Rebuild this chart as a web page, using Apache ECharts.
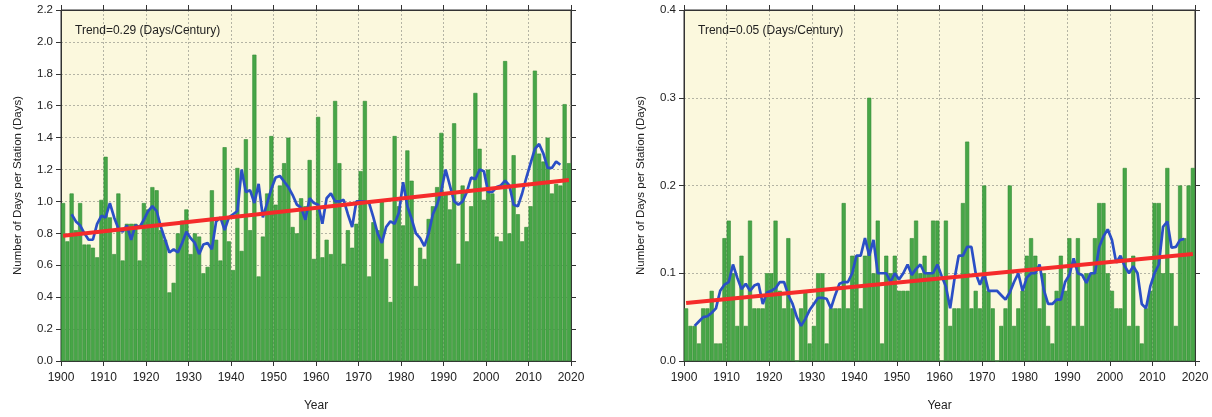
<!DOCTYPE html>
<html><head><meta charset="utf-8">
<script src="https://cdn.jsdelivr.net/npm/echarts@6/dist/echarts.min.js"></script>
<style>html,body{margin:0;padding:0;background:#fff}#c{width:1212px;height:417px}</style>
</head><body><div id="c"></div>
<script>
// ---------- data ----------
const START_YEAR = 1900;
const END_YEAR = 2019;
const SMOOTH_START = 1902;
const X_TICK_MIN = 1900, X_TICK_MAX = 2020, X_TICK_STEP = 10;

const leftBars = [
  0.99, 0.75, 1.05, 0.82, 0.99, 0.73, 0.73, 0.71, 0.65, 1.01,
  1.28, 0.90, 0.67, 1.05, 0.63, 0.86, 0.86, 0.86, 0.63, 0.99,
  0.95, 1.09, 1.07, 0.82, 0.76, 0.43, 0.49, 0.80, 0.88, 0.95,
  0.67, 0.80, 0.78, 0.55, 0.59, 1.07, 0.76, 0.63, 1.34, 0.75,
  0.57, 1.21, 0.69, 1.39, 0.82, 1.92, 0.53, 0.78, 1.05, 1.41,
  0.98, 1.10, 1.24, 1.40, 0.84, 0.80, 1.02, 0.97, 1.26, 0.64,
  1.53, 0.65, 0.76, 0.67, 1.63, 1.24, 0.61, 0.82, 0.71, 0.86,
  1.19, 1.63, 0.53, 0.87, 0.82, 1.00, 0.64, 0.37, 1.41, 0.97,
  0.85, 1.32, 1.13, 0.47, 0.71, 0.64, 0.89, 0.97, 1.09, 1.43,
  1.05, 0.95, 1.49, 0.61, 1.10, 0.75, 0.97, 1.68, 1.33, 1.01,
  1.20, 1.05, 0.78, 0.75, 1.88, 0.80, 1.29, 0.92, 0.75, 0.84,
  0.97, 1.82, 1.30, 1.25, 1.40, 1.05, 1.11, 1.10, 1.61, 1.24
];
const leftSmooth = [ // 1902..2017
              0.92, 0.875, 0.85, 0.80, 0.76, 0.76, 0.86, 0.91,
  0.90, 0.99, 0.90, 0.83, 0.81, 0.85, 0.76, 0.85, 0.84, 0.885,
  0.94, 0.97, 0.94, 0.84, 0.76, 0.68, 0.70, 0.68, 0.74, 0.81,
  0.77, 0.74, 0.67, 0.73, 0.74, 0.70, 0.875, 0.90, 0.82, 0.90,
  0.92, 0.94, 1.20, 1.06, 1.07, 0.99, 1.11, 0.90, 0.99, 1.08,
  1.15, 1.16, 1.125, 1.09, 1.04, 0.98, 0.96, 0.885, 1.02, 0.99,
  0.98, 0.86, 1.02, 1.05, 1.00, 1.00, 1.01, 0.92, 0.84, 1.00,
  1.00, 1.00, 0.99, 0.90, 0.80, 0.74, 0.84, 0.875, 0.86, 0.93,
  1.12, 0.97, 0.89, 0.80, 0.77, 0.72, 0.80, 0.92, 0.98, 1.07,
  1.20, 1.10, 1.00, 0.98, 1.00, 1.06, 1.15, 1.14, 1.20, 1.19,
  1.06, 1.06, 1.09, 1.10, 1.13, 1.10, 0.98, 0.97, 1.05, 1.15,
  1.24, 1.33, 1.36, 1.30, 1.21, 1.21, 1.25, 1.23
];
const leftTrend = [0.785, 1.135]; // value at 1900 and at 2019

const rightBars = [
  0.06, 0.04, 0.04, 0.02, 0.06, 0.06, 0.08, 0.02, 0.02, 0.14,
  0.16, 0.10, 0.04, 0.12, 0.04, 0.16, 0.06, 0.06, 0.06, 0.10,
  0.10, 0.16, 0.08, 0.06, 0.14, 0.06, 0.00, 0.06, 0.08, 0.02,
  0.04, 0.10, 0.10, 0.02, 0.06, 0.06, 0.06, 0.18, 0.06, 0.12,
  0.12, 0.06, 0.12, 0.30, 0.10, 0.16, 0.02, 0.12, 0.10, 0.12,
  0.08, 0.08, 0.08, 0.14, 0.16, 0.10, 0.12, 0.10, 0.16, 0.16,
  0.00, 0.16, 0.04, 0.06, 0.06, 0.18, 0.25, 0.06, 0.08, 0.06,
  0.20, 0.08, 0.06, 0.00, 0.04, 0.06, 0.20, 0.04, 0.06, 0.08,
  0.12, 0.14, 0.12, 0.06, 0.10, 0.04, 0.02, 0.08, 0.12, 0.08,
  0.14, 0.04, 0.14, 0.04, 0.10, 0.10, 0.14, 0.18, 0.18, 0.10,
  0.08, 0.06, 0.06, 0.22, 0.04, 0.12, 0.04, 0.02, 0.06, 0.08,
  0.18, 0.18, 0.10, 0.22, 0.10, 0.04, 0.20, 0.14, 0.20, 0.22
];
const rightSmooth = [ // 1902..2017
              0.040, 0.045, 0.050, 0.051, 0.055, 0.060, 0.080, 0.087,
  0.090, 0.110, 0.095, 0.082, 0.088, 0.080, 0.086, 0.088, 0.065, 0.078,
  0.080, 0.083, 0.090, 0.090, 0.075, 0.065, 0.050, 0.040, 0.048, 0.058,
  0.065, 0.072, 0.072, 0.071, 0.060, 0.075, 0.088, 0.090, 0.090, 0.100,
  0.120, 0.120, 0.140, 0.120, 0.138, 0.100, 0.100, 0.100, 0.090, 0.100,
  0.093, 0.100, 0.110, 0.098, 0.105, 0.110, 0.100, 0.100, 0.100, 0.110,
  0.097, 0.085, 0.060, 0.093, 0.120, 0.120, 0.130, 0.130, 0.100, 0.087,
  0.100, 0.080, 0.080, 0.080, 0.075, 0.070, 0.078, 0.090, 0.100, 0.080,
  0.095, 0.100, 0.100, 0.110, 0.081, 0.065, 0.065, 0.070, 0.070, 0.090,
  0.098, 0.117, 0.100, 0.098, 0.089, 0.100, 0.100, 0.130, 0.142, 0.150,
  0.138, 0.112, 0.120, 0.108, 0.100, 0.108, 0.100, 0.065, 0.060, 0.085,
  0.100, 0.110, 0.153, 0.159, 0.129, 0.130, 0.138, 0.139
];
const rightTrend = [0.066, 0.122];

const leftYTicks = {max: 2.2, step: 0.2};
const rightYTicks = {max: 0.4, step: 0.1};
const leftNote = 'Trend=0.29 (Days/Century)';
const rightNote = 'Trend=0.05 (Days/Century)';
const yName = 'Number of Days per Station (Days)';
const xName = 'Year';

// ---------- build ----------
const years = [];
for (let y = START_YEAR; y <= END_YEAR; y++) years.push(String(y));
function smoothSeries(arr) {
  return years.map((y) => {
    const k = (+y) - SMOOTH_START;
    return (k >= 0 && k < arr.length) ? arr[k] : null;
  });
}
function trendSeries(ends) {
  return years.map((y, i) => i === 0 ? ends[0] : (i === years.length - 1 ? ends[1] : null));
}

const FONT = 'Liberation Sans, Arial, sans-serif';
const TXT = '#222';
const dotted = {show: true, lineStyle: {color: '#b4b4a4', type: [2, 2], width: 1}};
const grids = [
  {left: 61, top: 10, width: 510, height: 352},
  {left: 684, top: 10, width: 511, height: 352}
];

const xAxis = [], yAxis = [], series = [];
function panel(g, bars, smooth, trend, yt) {
  const xb = xAxis.length;
  xAxis.push({type: 'category', gridIndex: g, data: years, show: false, boundaryGap: true});
  xAxis.push({type: 'value', gridIndex: g, min: X_TICK_MIN, max: X_TICK_MAX, interval: X_TICK_STEP,
    position: 'bottom', name: xName, nameLocation: 'middle', nameGap: 39,
    nameTextStyle: {color: TXT, fontSize: 12, fontFamily: FONT},
    axisLine: {show: true, lineStyle: {color: '#333'}},
    axisTick: {show: true, inside: false, length: 5, lineStyle: {color: '#333'}},
    axisLabel: {color: TXT, fontSize: 12, fontFamily: FONT, margin: 11, formatter: v => String(v)},
    splitLine: dotted});
  xAxis.push({type: 'value', gridIndex: g, min: X_TICK_MIN, max: X_TICK_MAX, interval: X_TICK_STEP,
    position: 'top',
    axisLine: {show: true, lineStyle: {color: '#333'}},
    axisTick: {show: true, inside: false, length: 5, lineStyle: {color: '#333'}},
    axisLabel: {show: false}, splitLine: {show: false}});
  const yb = yAxis.length;
  yAxis.push({type: 'value', gridIndex: g, min: 0, max: yt.max, interval: yt.step, position: 'left',
    name: yName, nameLocation: 'middle', nameGap: 37,
    nameTextStyle: {color: TXT, fontSize: 11.5, fontFamily: FONT},
    axisLine: {show: true, lineStyle: {color: '#333'}},
    axisTick: {show: true, inside: false, length: 5, lineStyle: {color: '#333'}},
    axisLabel: {color: TXT, fontSize: 11.5, fontFamily: FONT, margin: 8, formatter: v => v.toFixed(1)},
    splitLine: dotted});
  yAxis.push({type: 'value', gridIndex: g, min: 0, max: yt.max, interval: yt.step, position: 'right',
    axisLine: {show: true, lineStyle: {color: '#333'}},
    axisTick: {show: true, inside: false, length: 5, lineStyle: {color: '#333'}},
    axisLabel: {show: false}, splitLine: {show: false}});
  series.push({type: 'bar', xAxisIndex: xb, yAxisIndex: yb, data: bars, barCategoryGap: '4%',
    itemStyle: {color: '#47a647', borderColor: '#338c36', borderWidth: 0.6}, silent: true, z: 2});
  series.push({type: 'line', xAxisIndex: xb, yAxisIndex: yb, data: smoothSeries(smooth), showSymbol: false,
    lineStyle: {color: '#2b4fc6', width: 2.7}, silent: true, z: 3});
  series.push({type: 'line', xAxisIndex: xb, yAxisIndex: yb, data: trendSeries(trend), connectNulls: true,
    showSymbol: false, lineStyle: {color: '#f52b2b', width: 4}, silent: true, z: 4});
}
panel(0, leftBars, leftSmooth, leftTrend, leftYTicks);
panel(1, rightBars, rightSmooth, rightTrend, rightYTicks);

const chart = echarts.init(document.getElementById('c'), null, {renderer: 'canvas'});
chart.setOption({
  animation: false,
  backgroundColor: '#ffffff',
  grid: grids.map(g => Object.assign({show: true, backgroundColor: '#fbf8dd', borderColor: '#333', borderWidth: 1}, g)),
  title: [
    {text: leftNote, left: 70, top: 20, textStyle: {color: TXT, fontSize: 12, fontWeight: 'normal', fontFamily: FONT}},
    {text: rightNote, left: 693, top: 20, textStyle: {color: TXT, fontSize: 12, fontWeight: 'normal', fontFamily: FONT}}
  ],
  xAxis, yAxis, series
});
</script></body></html>
